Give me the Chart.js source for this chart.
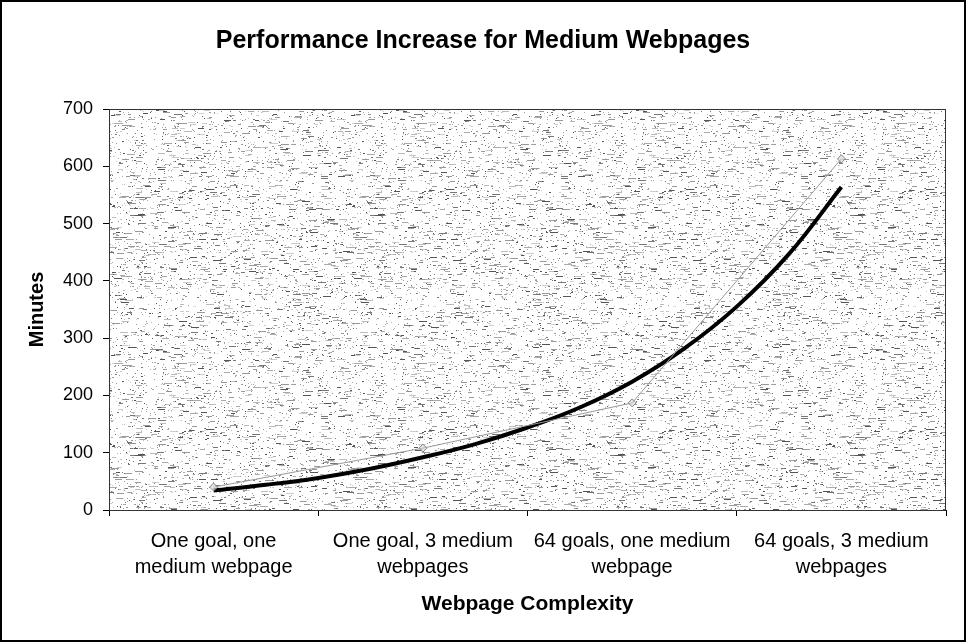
<!DOCTYPE html>
<html>
<head>
<meta charset="utf-8">
<script src="https://cdn.jsdelivr.net/npm/chart.js@4.4.1/dist/chart.umd.min.js"></script>
<style>
  body { margin: 0; background: #fff; }
  canvas { display: block; }
</style>
</head>
<body>
<canvas id="chart" width="966" height="642"></canvas>
<script>
const categories = [
  ["One goal, one", "medium webpage"],
  ["One goal, 3 medium", "webpages"],
  ["64 goals, one medium", "webpage"],
  ["64 goals, 3 medium", "webpages"],
];
const minutes = [40, 108, 187, 613];

// trendline, every quarter category
const trendX = [0, 0.25, 0.5, 0.75, 1, 1.25, 1.5, 1.75, 2, 2.25, 2.5, 2.75, 3];
const trendY = [34, 44, 56, 72, 92, 115, 144, 179, 224, 282, 355, 447, 564];

const yTicks = [0, 100, 200, 300, 400, 500, 600, 700];

const chartTitle = "Performance Increase for Medium Webpages";

const FONT = "'Liberation Sans', Arial, sans-serif";

// speckled grey fill like the scanned excel pattern
function makePattern() {
  const c = document.createElement("canvas");
  c.width = 240;
  c.height = 240;
  const g = c.getContext("2d");
  g.fillStyle = "#fff";
  g.fillRect(0, 0, 240, 240);
  let seed = 12345;
  const rnd = () => {
    seed = (seed * 1103515245 + 12345) & 0x7fffffff;
    return seed / 0x7fffffff;
  };
  const shades = ["#555", "#777", "#999", "#999", "#aaa", "#bbb", "#ccc"];
  for (let i = 0; i < 3600; i++) {
    const x = Math.floor(rnd() * 240);
    const y = Math.floor(rnd() * 240);
    const r = rnd();
    const w = r < 0.6 ? 1 : r < 0.8 ? 2 : Math.floor(3 + rnd() * 6);
    g.fillStyle = shades[Math.floor(rnd() * shades.length)];
    g.fillRect(x, y, w, 1);
  }
  return c;
}

const bgPlugin = {
  id: "plotBg",
  beforeDraw(chart) {
    const { ctx, chartArea: a } = chart;
    ctx.save();
    ctx.fillStyle = ctx.createPattern(makePattern(), "repeat");
    ctx.fillRect(a.left, a.top, a.right - a.left, a.bottom - a.top);
    ctx.restore();
  },
  afterDraw(chart) {
    const { ctx, chartArea: a } = chart;
    ctx.save();
    ctx.strokeStyle = "#333";
    ctx.lineWidth = 1;
    ctx.strokeRect(a.left + 0.5, a.top + 0.5, a.right - a.left - 1, a.bottom - a.top);
    ctx.strokeStyle = "#000";
    ctx.lineWidth = 2;
    ctx.strokeRect(1, 1, chart.width - 2, chart.height - 2);

    // title centred on the whole picture, not the plot
    ctx.fillStyle = "#000";
    ctx.font = "bold 25px " + FONT;
    ctx.textAlign = "center";
    ctx.textBaseline = "middle";
    ctx.fillText(chartTitle, chart.width / 2, 41);
    ctx.restore();
  },
};

new Chart(document.getElementById("chart"), {
  type: "line",
  data: {
    labels: categories,
    datasets: [
      {
        label: "Minutes",
        data: minutes,
        borderColor: "#999",
        borderWidth: 1,
        pointStyle: "rectRot",
        pointRadius: 4,
        pointBorderColor: "#888",
        pointBackgroundColor: "rgba(210,210,210,0.6)",
        pointBorderWidth: 1,
        tension: 0,
      },
      {
        label: "Expon. (Minutes)",
        data: trendX.map((x, i) => ({ x, y: trendY[i] })),
        xAxisID: "x2",
        borderColor: "#000",
        borderWidth: 4,
        pointRadius: 0,
        tension: 0.4,
      },
    ],
  },
  options: {
    responsive: false,
    animation: false,
    devicePixelRatio: 1,
    layout: { padding: { left: 0, right: 20, top: 109, bottom: 0 } },
    plugins: {
      legend: { display: false },
      tooltip: { enabled: false },
      title: { display: false },
    },
    scales: {
      x: {
        type: "category",
        offset: true,
        afterFit: (s) => { s.height = 132; },
        grid: { offset: true, drawOnChartArea: false, tickLength: 6, color: "#000" },
        border: { display: true, color: "#000", width: 1 },
        ticks: {
          color: "#000",
          padding: 12,
          maxRotation: 0,
          autoSkip: false,
          font: { family: FONT, size: 20, lineHeight: 1.3 },
        },
        title: {
          display: true,
          text: "Webpage Complexity",
          color: "#000",
          font: { family: FONT, size: 21, weight: "bold" },
          padding: { top: 0, bottom: 25 },
        },
      },
      x2: {
        type: "linear",
        display: false,
        min: -0.5,
        max: 3.5,
      },
      y: {
        min: 0,
        max: 700,
        afterFit: (s) => { s.width = 109; },
        afterBuildTicks: (s) => { s.ticks = yTicks.map((v) => ({ value: v })); },
        grid: { drawOnChartArea: false, tickLength: 6, color: "#000" },
        border: { display: true, color: "#000", width: 1 },
        ticks: {
          color: "#000",
          padding: 10,
          font: { family: FONT, size: 18 },
        },
        title: {
          display: true,
          text: "Minutes",
          color: "#000",
          font: { family: FONT, size: 20, weight: "bold" },
          padding: { top: 25, bottom: 0 },
        },
      },
    },
  },
  plugins: [bgPlugin],
});
</script>
</body>
</html>
